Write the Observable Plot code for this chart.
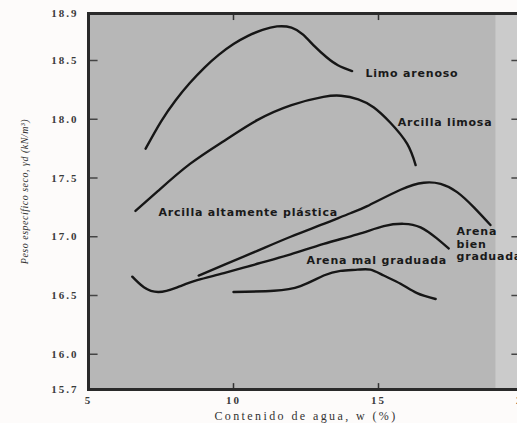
<!DOCTYPE html>
<html><head><meta charset="utf-8">
<script src="https://cdn.jsdelivr.net/npm/d3@7"></script>
<script src="https://cdn.jsdelivr.net/npm/@observablehq/plot@0.6"></script>
<style>
html,body{margin:0;padding:0;background:#fdfbfa;}
#chart svg{display:block;overflow:hidden;}
#chart g[aria-label="y-axis tick label"] text{letter-spacing:2px;}
#chart g[aria-label="x-axis tick label"] text{letter-spacing:2px;}
#chart .curvelabel text{letter-spacing:0.8px;}
#chart .xlab text{letter-spacing:2.4px;}
#chart .ylab text{letter-spacing:0.5px;}
</style></head><body><div id="chart"></div>
<script>
// Curves: water content w (%) and dry unit weight (kN/m3)
const limoW = [6.97, 7.5, 8.0, 8.5, 9.0, 9.5, 10.0, 10.5, 11.0, 11.5, 12.0, 12.4, 12.8, 13.2, 13.6, 14.09];
const limoG = [17.75, 17.98, 18.16, 18.31, 18.44, 18.55, 18.64, 18.71, 18.76, 18.79, 18.78, 18.72, 18.62, 18.53, 18.46, 18.41];

const arcLimW = [6.62, 7.4, 8.5, 9.7, 10.8, 12.0, 13.1, 13.7, 14.3, 14.84, 15.41, 15.99, 16.28];
const arcLimG = [17.22, 17.39, 17.62, 17.82, 17.99, 18.12, 18.19, 18.20, 18.17, 18.10, 17.97, 17.79, 17.61];

const arcPlaW = [8.80, 9.67, 10.82, 11.97, 13.11, 14.03, 14.61, 15.76, 16.56, 17.14, 17.71, 18.29, 18.86];
const arcPlaG = [16.67, 16.76, 16.88, 17.00, 17.11, 17.20, 17.26, 17.40, 17.46, 17.45, 17.38, 17.25, 17.10];

const arenaBienW = [6.51, 6.91, 7.42, 8.06, 8.75, 9.67, 10.82, 11.97, 13.11, 14.27, 15.18, 15.87, 16.45, 16.99, 17.42];
const arenaBienG = [16.66, 16.57, 16.53, 16.57, 16.63, 16.69, 16.77, 16.85, 16.94, 17.02, 17.09, 17.11, 17.08, 16.99, 16.90];

const arenaMalW = [10.0, 11.39, 12.31, 13.11, 13.69, 14.28, 14.72, 15.18, 15.76, 16.33, 16.97];
const arenaMalG = [16.53, 16.54, 16.58, 16.67, 16.71, 16.72, 16.72, 16.67, 16.60, 16.52, 16.47];

const curveNames = ["Limo arenoso", "Arcilla limosa", "Arcilla altamente plástica", "Arena bien graduada", "Arena mal graduada"];

// Labels
const labelText = ["Limo arenoso", "Arcilla limosa", "Arcilla altamente plástica", "Arena mal graduada", "Arena\nbien\ngraduada"];
const labelW = [14.55, 15.66, 7.41, 12.52, 17.69];
const labelG = [18.39, 17.98, 17.21, 16.80, 16.94];

const yTicks = [15.7, 16.0, 16.5, 17.0, 17.5, 18.0, 18.5, 18.9];
const xTicks = [5, 10, 15, 20];
const xDomain = [5, 20];
const yDomain = [15.7, 18.9];

const xTitle = "Contenido de agua, w (%)";
const yTitle = "Peso específico seco, γd (kN/m³)";

const pairs = [[limoW, limoG], [arcLimW, arcLimG], [arcPlaW, arcPlaG], [arenaBienW, arenaBienG], [arenaMalW, arenaMalG]];
const rows = pairs.flatMap(([ws, gs], i) => ws.map((w, j) => ({name: curveNames[i], w, g: gs[j]})));
const labels = labelText.map((t, i) => ({t, w: labelW[i], g: labelG[i]}));

const chart = Plot.plot({
  width: 517,
  height: 423,
  marginLeft: 88,
  marginRight: -6,
  marginTop: 13,
  marginBottom: 34,
  x: {domain: xDomain},
  y: {domain: yDomain},
  style: {background: "transparent", fontFamily: "'Liberation Serif', serif", fontSize: "11px", color: "#333"},
  marks: [
    Plot.frame({fill: "#b7b7b7"}),
    Plot.rect([19.05], {x1: d => d, x2: xDomain[1], y1: yDomain[0], y2: yDomain[1], fill: "#cbcbcb"}),
    Plot.ruleY(yTicks.slice(1, -1), {y: d => d, x1: xDomain[0], x2: xDomain[0] + 0.33, stroke: "#444", strokeWidth: 1.5}),
    Plot.ruleY(yTicks.slice(1, -1), {y: d => d, x1: xDomain[1] - 0.4, x2: xDomain[1], stroke: "#444", strokeWidth: 1.5}),
    Plot.ruleX(xTicks.slice(1, -1), {x: d => d, y1: yDomain[0], y2: yDomain[0] + 0.05, stroke: "#333", strokeWidth: 1.5}),
    Plot.ruleX(xTicks.slice(1, -1), {x: d => d, y1: yDomain[1] - 0.06, y2: yDomain[1], stroke: "#333", strokeWidth: 1.5}),
    Plot.line(rows, {x: "w", y: "g", z: "name", curve: "natural", stroke: "#161616", strokeWidth: 2.4}),
    Plot.text(labels, {x: "w", y: "g", text: "t", textAnchor: "start", lineAnchor: "middle", lineHeight: 1.15,
      fontFamily: "'DejaVu Sans', sans-serif", fontWeight: "bold", fontSize: 11, fill: "#1a1a1a", className: "curvelabel"}),
    Plot.axisY({ticks: yTicks, tickSize: 0, tickPadding: 10, tickFormat: d => d.toFixed(1), label: null, fontWeight: "bold", fill: "#3a3a3a"}),
    Plot.axisX({ticks: xTicks, tickSize: 0, tickPadding: 7, label: null, fontWeight: "bold", fill: "#3a3a3a"}),
    Plot.frame({stroke: "#2a2a2a", strokeWidth: 3}),
    Plot.text([xTitle], {frameAnchor: "bottom", dy: 30, fontSize: 12, fill: "#333", className: "xlab"}),
    Plot.text([yTitle], {frameAnchor: "left", textAnchor: "middle", dx: -64, dy: -10, rotate: -90, fontSize: 10, fontStyle: "italic", fill: "#333", className: "ylab"})
  ]
});
document.getElementById("chart").appendChild(chart);
</script>
</body></html>
